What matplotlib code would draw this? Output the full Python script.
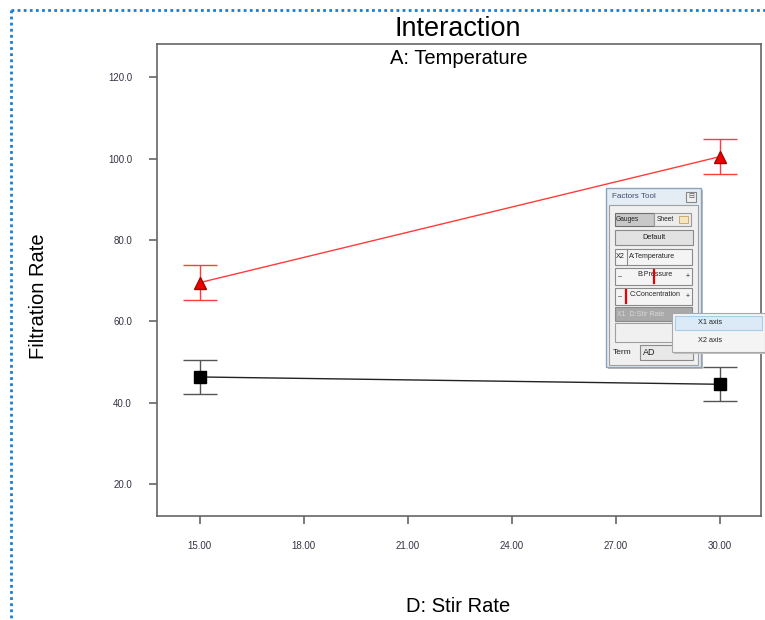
import numpy as np
import matplotlib.pyplot as plt
from matplotlib.patches import Rectangle

# data
stir_rate = [15.0, 30.0]
temp_high = [69.5, 100.5]
temp_high_err = [4.3, 4.3]
temp_low = [46.3, 44.5]
temp_low_err = [4.2, 4.2]
x_ticks = [15.0, 18.0, 21.0, 24.0, 27.0, 30.0]
y_ticks = [20.0, 40.0, 60.0, 80.0, 100.0, 120.0]

plt.rcParams['font.family'] = ['Liberation Sans', 'DejaVu Sans']

W, H = 765, 620
fig = plt.figure(figsize=(W / 100, H / 100), dpi=100)

def fr(x0, y0, x1, y1):
    # pixel box -> figure fraction [left, bottom, width, height]
    return [x0 / W, 1 - y1 / H, (x1 - x0) / W, (y1 - y0) / H]

ax = fig.add_axes(fr(157, 44, 761, 516))
ax.set_xlim(13.77, 31.18)
ax.set_ylim(12.1, 128.2)

tick_col = '#333344'
ax.errorbar(stir_rate, temp_high, yerr=temp_high_err, color='#ff3b3b', lw=1,
            capsize=12, capthick=1, marker='^', ms=9, mfc='#ee0000', mec='#aa0000', zorder=3)
ax.errorbar(stir_rate, temp_low, yerr=temp_low_err, color='#222222', lw=1, ecolor='#555555',
            capsize=12, capthick=1, marker='s', ms=9, mfc='black', mec='black', zorder=3)

ax.set_xticks(x_ticks)
ax.set_xticklabels([f"{v:.2f}" for v in x_ticks])
ax.set_yticks(y_ticks)
ax.set_yticklabels([f"{v:.1f}" for v in y_ticks])
ax.tick_params(direction='out', length=6, width=1.2, color='#666666', labelsize=7,
               labelcolor=tick_col, pad=12)
for s in ax.spines.values():
    s.set_color('#666666')
    s.set_linewidth(1.2)

fig.text(458 / W, 1 - 29 / H, 'Interaction', ha='center', va='center', fontsize=19.5)
fig.text(459 / W, 1 - 59 / H, 'A: Temperature', ha='center', va='center', fontsize=14.5)
fig.text(38 / W, 1 - 296 / H, 'Filtration Rate', ha='center', va='center', fontsize=14.5, rotation=90)
fig.text(458 / W, 1 - 607 / H, 'D: Stir Rate', ha='center', va='center', fontsize=14.5)

# overlay in pixel coordinates for the screenshot decorations
ov = fig.add_axes([0, 0, 1, 1], zorder=10)
ov.set_xlim(0, W)
ov.set_ylim(H, 0)
ov.axis('off')
ov.patch.set_alpha(0)

blue = '#1a7fd0'
ov.plot([11, 765], [10, 10], color=blue, lw=2, ls=(0, (1, 1.2)))
ov.plot([11, 11], [10, 620], color=blue, lw=2, ls=(0, (1, 1.2)))

def box(x0, y0, x1, y1, fc, ec='#8a8a8a', lw=0.8, z=1):
    ov.add_patch(Rectangle((x0, y0), x1 - x0, y1 - y0, facecolor=fc, edgecolor=ec, lw=lw, zorder=z))

def txt(x, y, s, size=5.5, ha='left', col='#222222', z=5):
    ov.text(x, y, s, fontsize=size, ha=ha, va='center', color=col, zorder=z)

# Factors Tool panel
box(608, 190, 703, 369, '#bbbbbb', ec='none')  # shadow
box(606, 188, 701, 367, '#e4ecf4', ec='#8fa3b8', lw=1)
txt(612, 197, 'Factors Tool', size=5.8, col='#3c4a70')
box(686, 192, 696, 202, '#f0f0f0', ec='#888888')
txt(691, 197, '⊟', size=5, ha='center', col='#555555')
box(609, 205, 698, 365, '#f0f0f0', ec='#a0a0a0')
box(615, 213, 654, 226, '#c8c8c8', ec='#707070')
txt(616, 219.5, 'Gauges', size=4.8)
box(654, 213, 691, 226, '#ececec', ec='#999999')
txt(657, 219.5, 'Sheet', size=4.8)
box(679, 216, 688, 223, '#f6e6c0', ec='#c8a060', lw=0.6)
box(615, 230, 693, 245, '#e2e2e2', ec='#8a8a8a')
txt(654, 237.5, 'Default', size=5.3, ha='center')
box(615, 249, 692, 265, '#f4f4f4', ec='#8a8a8a')
ov.plot([627, 627], [249, 265], color='#8a8a8a', lw=0.8, zorder=2)
txt(616, 257, 'X2', size=5.2)
txt(629, 257, 'A:Temperature', size=5)
for y0, y1, label, mark in [(268, 285, 'B:Pressure', 654), (288, 305, 'C:Concentration', 626)]:
    box(615, y0, 692, y1, '#f4f4f4', ec='#8a8a8a')
    txt(618, (y0 + y1) / 2, '–', size=5)
    txt(686, (y0 + y1) / 2, '+', size=5)
    txt(655, (y0 + y1) / 2 - 2, label, size=5, ha='center')
    ov.plot([mark, mark], [y0 + 2, y1 - 2], color='#ee0000', lw=1.6, zorder=6)
box(615, 307, 692, 321, '#a9a9a9', ec='#8a8a8a')
txt(617, 314, 'X1  D:Stir Rate', size=5, col='#d8d8d8')
box(615, 323, 692, 342, '#f0f0f0', ec='#a0a0a0')
txt(613, 352, 'Term', size=6)
box(640, 345, 693, 360, '#e8e8e8', ec='#8a8a8a')
txt(643, 352.5, 'AD', size=6.5)
txt(687, 352.5, '▾', size=5, ha='center')

# popup menu
box(674, 315, 767, 354, '#c0c0c0', ec='none', z=7)
box(672, 313, 765, 352, '#f4f4f4', ec='#a8a8a8', z=8)
box(675, 315.5, 762, 330, '#dbeaf6', ec='#a8cde8', z=9)
txt(698, 323, 'X1 axis', size=5.3, z=10)
txt(698, 340, 'X2 axis', size=5.3, z=10)

fig.savefig('out.png', dpi=100)
